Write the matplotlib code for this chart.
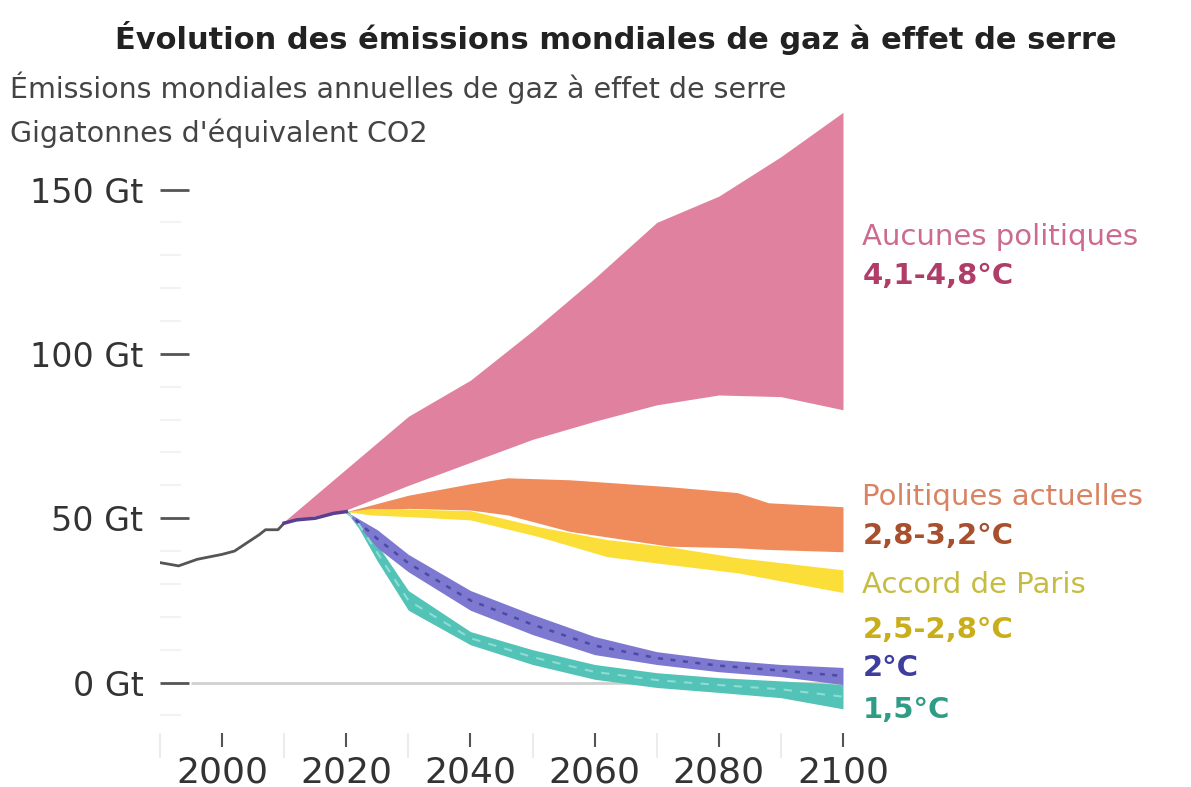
import numpy as np
import matplotlib
matplotlib.use('Agg')
from matplotlib import pyplot as plt

# historique
years_hist = [1990, 1993, 1996, 2000, 2002, 2004, 2006, 2007, 2009, 2010, 2012, 2015, 2018, 2020]
hist = [36.5, 35.5, 37.5, 39, 40, 42.5, 45, 46.5, 46.5, 48.5, 49.5, 50, 51.5, 52]

# scenarios
pink_years = [2010, 2020, 2030, 2040, 2050, 2060, 2070, 2080, 2090, 2100]
pink_low = [49, 52.5, 60, 67, 74, 79.5, 84.5, 87.5, 87, 83]
pink_high = [49, 65, 81, 92, 107, 123, 140, 148, 160, 173.5]

orange_years = [2020, 2030, 2040, 2046, 2056, 2072, 2083, 2088, 2100]
orange_high = [52, 57, 60.5, 62.3, 61.7, 59.6, 57.8, 54.7, 53.5]
orange_low = [52, 53, 52.5, 51, 46, 41.5, 41, 40.5, 39.8]

yellow_years = [2020, 2024, 2030, 2040, 2051, 2062, 2072, 2083, 2100]
yellow_high = [52, 53, 52.8, 52.3, 47.4, 43.5, 41.3, 38, 34.3]
yellow_low = [52, 51, 50.5, 49.5, 44.4, 38.3, 35.9, 33.4, 27.4]

purple_years = [2020, 2025, 2030, 2040, 2050, 2060, 2070, 2080, 2090, 2100]
purple_high = [52, 46.5, 39, 28, 20.7, 14, 9.4, 7, 5.5, 4.6]
purple_low = [52, 41, 33.7, 22, 14.6, 8.5, 5.5, 3.3, 1.8, -0.6]

teal_years = [2020, 2022, 2025, 2030, 2040, 2050, 2060, 2070, 2080, 2090, 2100]
teal_high = [52, 49.5, 42, 28, 15.5, 10, 5.5, 3, 1.5, 0.5, -0.6]
teal_low = [52, 47, 37, 22, 11.5, 5.5, 1, -1.5, -3, -4.6, -8]

yticks = [0, 50, 100, 150]
ytick_labels = ['0 Gt', '50 Gt', '100 Gt', '150 Gt']
xticks = [2000, 2020, 2040, 2060, 2080, 2100]

plt.rcParams['font.family'] = ['DejaVu Sans']

fig = plt.figure(figsize=(11.91, 7.87), dpi=100)
ax = fig.add_axes([0.1343, 0.0826, 0.5735, 0.8018])

ax.hlines(0, 1995, 2100, color='#d0d0d0', lw=2, zorder=1)

ax.fill_between(pink_years, pink_low, pink_high, color='#e0819f', lw=0, zorder=2)
ax.fill_between(orange_years, orange_low, orange_high, color='#f08b5c', lw=0, zorder=3)
ax.fill_between(yellow_years, yellow_low, yellow_high, color='#fcde38', lw=0, zorder=4)
ax.fill_between(teal_years, teal_low, teal_high, color='#52c3b6', lw=0, zorder=5)
ax.fill_between(purple_years, purple_low, purple_high, color='#7d78d0', lw=0, zorder=6)

p_mid = (np.array(purple_low) + np.array(purple_high)) / 2
t_mid = (np.array(teal_low) + np.array(teal_high)) / 2
ax.plot(purple_years, p_mid, color='#4d4aa5', lw=1.8, ls=(0, (2, 3)), zorder=7)
ax.plot(teal_years, t_mid, color='#8fdcd3', lw=1.5, ls=(0, (4, 4)), zorder=7)

i10 = years_hist.index(2010)
ax.plot(years_hist[:i10 + 1], hist[:i10 + 1], color='#555555', lw=2, zorder=8)
ax.plot(years_hist[i10:], hist[i10:], color='#5a3f8f', lw=2.5, zorder=8)

ax.set_xlim(1990, 2100)
ax.set_ylim(-12, 180)

for s in ax.spines.values():
    s.set_visible(False)
ax.spines['bottom'].set_position(('outward', 8))

ax.set_yticks(yticks)
ax.set_yticklabels(ytick_labels)
ax.set_yticks(np.arange(-10, 150, 10), minor=True)
ax.tick_params(axis='y', which='major', direction='in', length=21, width=2,
               color='#555555', pad=12, labelsize=24, labelcolor='#333333')
ax.tick_params(axis='y', which='minor', direction='in', length=15, width=1.5,
               color='#f2f2f2')

ax.set_xticks(xticks)
ax.set_xticklabels([str(x) for x in xticks])
ax.set_xticks(np.arange(1990, 2100, 20), minor=True)
ax.tick_params(axis='x', which='major', direction='out', length=10, width=1.5,
               color='#555555', pad=6, labelsize=26, labelcolor='#333333')
ax.tick_params(axis='x', which='minor', direction='out', length=18, width=1.5,
               color='#ececec')

# titres
fig.text(0.517, 0.952, 'Évolution des émissions mondiales de gaz à effet de serre',
         ha='center', va='center', fontsize=22, fontweight='bold', color='#222222')
fig.text(0.008, 0.888, 'Émissions mondiales annuelles de gaz à effet de serre',
         ha='left', va='center', fontsize=20.5, color='#444444')
fig.text(0.008, 0.831, "Gigatonnes d'équivalent CO2",
         ha='left', va='center', fontsize=20.5, color='#444444')

# étiquettes des scénarios
lx = 0.724
labels = [
    (237, 'Aucunes politiques', '#cc6a90', 'normal'),
    (276, '4,1-4,8°C', '#b03c68', 'bold'),
    (497, 'Politiques actuelles', '#d88462', 'normal'),
    (536, '2,8-3,2°C', '#a8502e', 'bold'),
    (585, 'Accord de Paris', '#c6bc42', 'normal'),
    (630, '2,5-2,8°C', '#c9ae1a', 'bold'),
    (668, '2°C', '#3e3e9e', 'bold'),
    (710, '1,5°C', '#2f9c86', 'bold'),
]
for ypx, txt, col, w in labels:
    fig.text(lx, 1 - ypx / 787, txt, fontsize=21, color=col, fontweight=w,
             ha='left', va='center')

fig.savefig('out.png', dpi=100)
